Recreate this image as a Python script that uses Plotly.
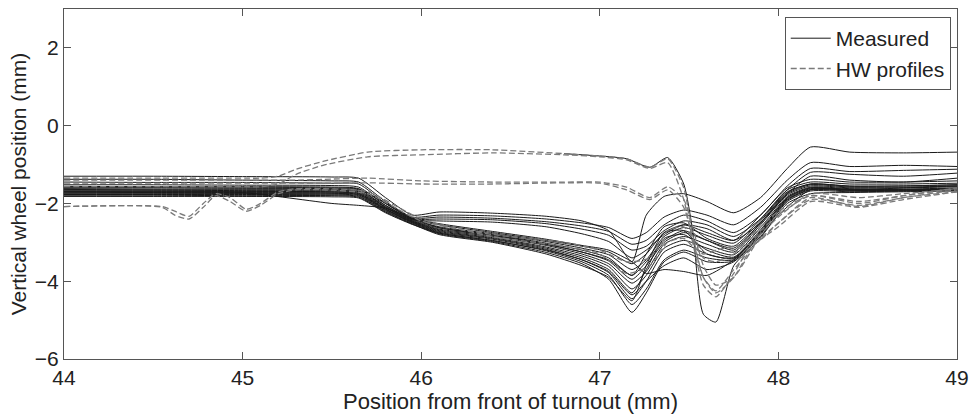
import plotly.graph_objects as go

# Position along the turnout (mm) at which the measured runs are sampled
x_meas = [44.0, 44.5, 45.0, 45.5, 45.65, 45.8, 45.95, 46.1, 46.4, 46.7, 46.9, 47.05,
          47.18, 47.26, 47.36, 47.47, 47.6, 47.75, 47.9, 48.05, 48.18, 48.4, 48.7, 49.0]

# Measured vertical wheel positions (mm) - upper group after the first drop
m01 = [-1.30, -1.30, -1.31, -1.32, -1.35, -1.85, -2.30, -2.22, -2.25, -2.33, -2.45, -2.70,
       -3.50, -2.30, -1.82, -1.75, -1.95, -2.24, -1.85, -1.10, -0.55, -0.68, -0.70, -0.68]
m02 = [-1.38, -1.38, -1.40, -1.42, -1.45, -1.95, -2.35, -2.30, -2.32, -2.40, -2.50, -2.62,
       -2.90, -2.75, -2.35, -2.17, -2.30, -2.55, -2.10, -1.40, -0.95, -1.05, -1.02, -1.05]
m03 = [-1.45, -1.46, -1.46, -1.48, -1.50, -2.00, -2.38, -2.35, -2.38, -2.47, -2.58, -2.72,
       -3.05, -2.95, -2.55, -2.30, -2.45, -2.75, -2.30, -1.55, -1.10, -1.18, -1.15, -1.12]
m04 = [-1.52, -1.52, -1.53, -1.54, -1.58, -2.05, -2.40, -2.40, -2.42, -2.52, -2.66, -2.82,
       -3.20, -3.10, -2.70, -2.45, -2.55, -2.85, -2.40, -1.65, -1.20, -1.25, -1.30, -1.22]
m05 = [-1.56, -1.57, -1.57, -1.58, -1.62, -2.10, -2.42, -2.45, -2.48, -2.60, -2.78, -2.98,
       -3.40, -3.20, -2.80, -2.55, -2.65, -2.95, -2.50, -1.75, -1.30, -1.40, -1.45, -1.35]

# Measured runs - lower, denser group
m06 = [-1.60, -1.60, -1.61, -1.62, -1.65, -2.00, -2.40, -2.55, -2.75, -2.95, -3.10, -3.25,
       -3.55, -3.30, -2.75, -2.55, -2.75, -2.95, -2.30, -1.60, -1.38, -1.45, -1.45, -1.42]
m07 = [-1.62, -1.63, -1.63, -1.64, -1.68, -2.05, -2.42, -2.60, -2.78, -2.98, -3.15, -3.32,
       -3.70, -3.45, -2.85, -2.62, -2.82, -3.02, -2.40, -1.65, -1.45, -1.50, -1.50, -1.48]
m08 = [-1.64, -1.65, -1.65, -1.66, -1.70, -2.08, -2.44, -2.63, -2.80, -3.02, -3.20, -3.40,
       -3.85, -3.30, -2.60, -2.50, -2.90, -3.10, -2.45, -1.70, -1.50, -1.55, -1.55, -1.52]
m09 = [-1.66, -1.66, -1.67, -1.68, -1.72, -2.10, -2.45, -2.66, -2.82, -3.05, -3.25, -3.48,
       -3.95, -3.60, -3.00, -2.75, -2.95, -3.15, -2.50, -1.75, -1.52, -1.58, -1.58, -1.55]
m10 = [-1.68, -1.68, -1.69, -1.70, -1.74, -2.12, -2.46, -2.68, -2.85, -3.08, -3.30, -3.55,
       -4.05, -3.75, -3.05, -2.85, -3.05, -3.25, -2.55, -1.78, -1.55, -1.60, -1.60, -1.57]
m11 = [-1.70, -1.70, -1.70, -1.71, -1.75, -2.14, -2.47, -2.70, -2.88, -3.12, -3.35, -3.62,
       -4.20, -3.85, -3.15, -2.95, -3.15, -3.32, -2.62, -1.82, -1.58, -1.62, -1.63, -1.60]
m12 = [-1.71, -1.72, -1.72, -1.73, -1.77, -2.15, -2.48, -2.72, -2.90, -3.15, -3.40, -3.70,
       -4.30, -3.70, -2.90, -2.80, -3.20, -3.38, -2.68, -1.85, -1.60, -1.65, -1.65, -1.62]
m13 = [-1.73, -1.73, -1.74, -1.74, -1.78, -2.16, -2.49, -2.74, -2.92, -3.18, -3.45, -3.78,
       -4.45, -4.00, -3.25, -3.05, -3.30, -3.42, -2.72, -1.88, -1.62, -1.66, -1.66, -1.64]
m14 = [-1.75, -1.75, -1.75, -1.76, -1.80, -2.18, -2.50, -2.76, -2.95, -3.22, -3.50, -3.85,
       -4.60, -4.20, -3.45, -3.20, -3.40, -3.45, -2.78, -1.92, -1.65, -1.68, -1.68, -1.66]
m15 = [-1.77, -1.77, -1.77, -1.78, -1.82, -2.20, -2.52, -2.78, -2.98, -3.26, -3.55, -3.95,
       -4.80, -4.30, -3.50, -3.25, -3.50, -3.48, -2.85, -2.00, -1.75, -1.72, -1.70, -1.68]
m16 = [-1.79, -1.79, -1.80, -1.80, -1.84, -2.22, -2.53, -2.80, -3.00, -3.30, -3.60, -3.90,
       -4.50, -3.60, -2.75, -2.70, -3.30, -3.40, -2.70, -1.85, -1.60, -1.64, -1.64, -1.62]
m17 = [-1.82, -1.82, -1.82, -1.83, -1.86, -2.24, -2.54, -2.76, -2.96, -3.20, -3.45, -3.75,
       -4.35, -4.00, -3.60, -3.40, -3.70, -3.50, -2.80, -1.95, -1.68, -1.70, -1.68, -1.65]
m18 = [-1.58, -1.58, -1.58, -1.60, -1.63, -1.98, -2.38, -2.52, -2.72, -2.92, -3.08, -3.20,
       -3.50, -3.80, -3.70, -3.75, -3.85, -3.45, -2.75, -1.90, -1.64, -1.66, -1.66, -1.63]
m19 = [-1.70, -1.70, -1.72, -2.00, -2.05, -2.12, -2.38, -2.62, -2.82, -3.05, -3.25, -3.45,
       -3.85, -3.50, -2.95, -2.70, -2.95, -3.20, -2.50, -1.72, -1.50, -1.56, -1.55, -1.52]

measured_runs = [m01, m02, m03, m04, m05, m06, m07, m08, m09, m10,
                 m11, m12, m13, m14, m15, m16, m17, m18, m19]

# Finer sampling used for the HW profiles and the run with the deep second dip
x_fine = [44.0, 44.55, 44.62, 44.7, 44.78, 44.85, 44.93, 45.02, 45.1, 45.2, 45.3, 45.45,
          45.7, 46.0, 46.4, 46.8, 47.0, 47.15, 47.28, 47.38, 47.47, 47.52, 47.58, 47.65,
          47.75, 47.88, 48.0, 48.18, 48.45, 48.7, 49.0]

# Measured run recorded only from 46.8 mm onwards
m20 = [None, None, None, None, None, None, None, None, None, None, None, None,
       None, None, None, -0.72, -0.78, -0.85, -1.07, -0.82, -1.50, -2.70, -4.85, -5.05,
       -3.60, -3.00, -2.30, -1.65, -1.65, -1.60, -1.55]

# HW profile predictions (mm)
hw1 = [-1.35, -1.35, -1.35, -1.35, -1.35, -1.35, -1.35, -1.35, -1.35, -1.30, -1.12, -0.92,
       -0.68, -0.62, -0.62, -0.72, -0.78, -0.85, -1.07, -0.85, -1.60, -2.80, -3.90, -4.30,
       -3.90, -2.90, -2.35, -1.75, -1.85, -1.75, -1.62]
hw2 = [-1.57, -1.57, -1.57, -1.57, -1.57, -1.57, -1.57, -1.57, -1.57, -1.50, -1.25, -1.02,
       -0.80, -0.75, -0.70, -0.75, -0.80, -0.88, -1.10, -0.95, -1.90, -3.00, -4.10, -4.40,
       -3.80, -2.80, -2.30, -1.80, -2.00, -1.80, -1.60]
hw3 = [-1.40, -1.40, -1.40, -1.40, -1.40, -1.40, -1.40, -1.40, -1.40, -1.40, -1.40, -1.38,
       -1.35, -1.42, -1.45, -1.45, -1.45, -1.58, -1.85, -1.57, -1.90, -2.60, -3.60, -4.10,
       -3.90, -3.00, -2.50, -1.90, -2.05, -1.85, -1.65]
hw4 = [-1.48, -1.48, -1.48, -1.48, -1.48, -1.48, -1.48, -1.48, -1.48, -1.48, -1.48, -1.48,
       -1.47, -1.50, -1.50, -1.47, -1.48, -1.65, -1.90, -1.65, -2.10, -2.90, -3.90, -4.25,
       -3.70, -3.00, -2.60, -1.95, -2.10, -1.90, -1.70]
hw5 = [-2.08, -2.08, -2.20, -2.33, -2.00, -1.75, -1.85, -2.15, -2.00, -1.70, -1.62, -1.62,
       -1.70, -2.40, -2.85, -3.10, -3.30, -3.80, -3.60, -3.00, -2.90, -3.10, -3.30, -3.20,
       -3.10, -3.00, -2.50, -1.85, -2.08, -1.85, -1.70]
hw6 = [-2.08, -2.10, -2.30, -2.40, -2.10, -1.80, -1.95, -2.20, -2.05, -1.75, -1.65, -1.65,
       -1.75, -2.45, -2.80, -3.00, -3.20, -3.50, -3.40, -2.70, -2.60, -2.90, -3.40, -3.50,
       -3.30, -2.70, -2.20, -1.80, -1.95, -1.80, -1.62]

hw_profiles = [hw1, hw2, hw3, hw4, hw5, hw6]

x_ticks = [44, 45, 46, 47, 48, 49]
y_ticks = [-6, -4, -2, 0, 2]

MEAS_COLOR = "#1a1a1a"
HW_COLOR = "#7a7a7a"
FONT = "Liberation Sans, Arial, sans-serif"
TEXT_COLOR = "#222"

fig = go.Figure()

for i, run in enumerate(measured_runs):
    fig.add_trace(go.Scatter(
        x=x_meas, y=run, mode="lines",
        line=dict(color=MEAS_COLOR, width=1, shape="spline", smoothing=0.6),
        name="Measured", legendgroup="meas", showlegend=(i == 0),
    ))

fig.add_trace(go.Scatter(
    x=x_fine, y=m20, mode="lines",
    line=dict(color=MEAS_COLOR, width=1, shape="spline", smoothing=0.6),
    name="Measured", legendgroup="meas", showlegend=False, connectgaps=False,
))

for i, prof in enumerate(hw_profiles):
    fig.add_trace(go.Scatter(
        x=x_fine, y=prof, mode="lines",
        line=dict(color=HW_COLOR, width=1.3, dash="6px,3px", shape="spline", smoothing=0.6),
        name="HW profiles", legendgroup="hw", showlegend=(i == 0),
    ))

axis_common = dict(
    showgrid=False, zeroline=False,
    showline=True, linecolor="#555", linewidth=1, mirror="ticks",
    ticks="inside", ticklen=7, tickcolor="#555",
    tickfont=dict(family=FONT, size=21, color=TEXT_COLOR),
)

fig.update_layout(
    width=971, height=414,
    margin=dict(l=64, r=14, t=9, b=55),
    paper_bgcolor="white", plot_bgcolor="white",
    font=dict(family=FONT, size=21, color=TEXT_COLOR),
    xaxis=dict(range=[44, 49], tickvals=x_ticks, automargin=False,
               title=dict(text="Position from front of turnout (mm)", standoff=6,
                          font=dict(family=FONT, size=22, color=TEXT_COLOR)),
               **axis_common),
    yaxis=dict(range=[-6, 3], tickvals=y_ticks, automargin=False,
               title=dict(text="Vertical wheel position (mm)", standoff=2,
                          font=dict(family=FONT, size=21, color=TEXT_COLOR)),
               **axis_common),
    legend=dict(x=0.993, y=0.977, xanchor="right", yanchor="top",
                bgcolor="white", bordercolor="#555", borderwidth=1,
                font=dict(family=FONT, size=21, color=TEXT_COLOR),
                tracegroupgap=0, itemwidth=40),
)

fig.write_html("out.html")
